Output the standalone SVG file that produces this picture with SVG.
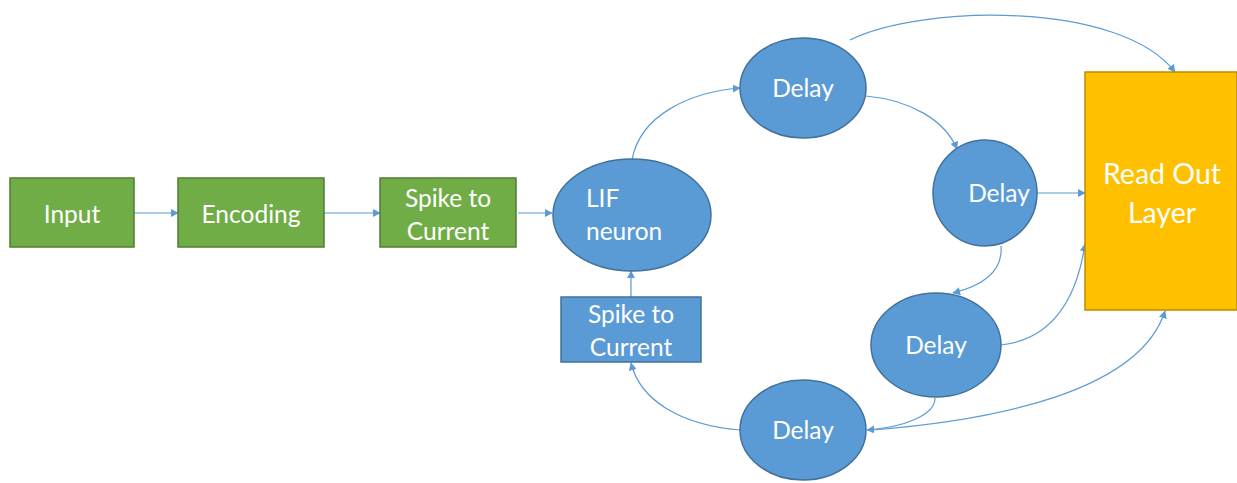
<svg xmlns="http://www.w3.org/2000/svg" width="1237" height="483" viewBox="0 0 1237 483">
<style>
.g{fill:#70AD47;stroke:#507E32;stroke-width:1.5}
.b{fill:#5B9BD5;stroke:#41719C;stroke-width:1.5}
.o{fill:#FFC000;stroke:#BC8C00;stroke-width:1.5}
.t{font-family:Lato,"Liberation Sans",sans-serif;font-size:24.5px;fill:#FFFFFF;text-anchor:middle}
.big{font-size:28.5px}
.c{fill:none;stroke:#5B9BD5;stroke-width:1.2;marker-end:url(#ah)}
</style>
<defs>
<marker id="ah" viewBox="0 0 10 10" refX="9" refY="5" markerWidth="8" markerHeight="8" markerUnits="userSpaceOnUse" orient="auto">
<path d="M0,0 L10,5 L0,10 z" fill="#5B9BD5"/>
</marker>
</defs>
<rect width="1237" height="483" fill="#FFFFFF"/>
<g id="connectors">
<path class="c" d="M134,213 L178,213"/>
<path class="c" d="M324,213 L380,213"/>
<path class="c" d="M518,213 L552,213"/>
<path class="c" d="M631,297 L631,271"/>
<path class="c" d="M632,160 C640,115 690,92 740,88"/>
<path class="c" d="M850,40 C920,5 1120,0 1175,72"/>
<path class="c" d="M866,96 C910,100 945,120 957,149"/>
<path class="c" d="M1037,193 L1085,193"/>
<path class="c" d="M1001,246 C1003,270 985,285 953,293"/>
<path class="c" d="M1001,345 C1045,340 1075,310 1085,244"/>
<path class="c" d="M935,398 C935,415 905,427 867,430"/>
<path class="c" d="M873,430 C1000,420 1140,390 1165,311"/>
<path class="c" d="M740,430 C680,425 640,400 631,363"/>
</g>
<g id="input"><rect class="g" x="10" y="178" width="124" height="69"/><text class="t" x="72" y="223">Input</text></g>
<g id="encoding"><rect class="g" x="178" y="178" width="146" height="69"/><text class="t" x="251" y="223">Encoding</text></g>
<g id="spike1"><rect class="g" x="380" y="178" width="136" height="69"/><text class="t" x="448" y="207">Spike to</text><text class="t" x="448" y="240">Current</text></g>
<g id="lif"><ellipse class="b" cx="632" cy="215" rx="79" ry="56"/><text class="t" x="586" y="207" style="text-anchor:start">LIF</text><text class="t" x="586" y="240" style="text-anchor:start">neuron</text></g>
<g id="spike2"><rect class="b" x="561" y="297" width="140" height="65"/><text class="t" x="631" y="323">Spike to</text><text class="t" x="631" y="356">Current</text></g>
<g id="delay1"><ellipse class="b" cx="803" cy="88" rx="63" ry="50"/><text class="t" x="803" y="97">Delay</text></g>
<g id="delay2"><ellipse class="b" cx="985" cy="193" rx="52" ry="53"/><text class="t" x="999" y="202">Delay</text></g>
<g id="delay3"><ellipse class="b" cx="936" cy="345" rx="65" ry="52"/><text class="t" x="936" y="354">Delay</text></g>
<g id="delay4"><ellipse class="b" cx="803" cy="430" rx="63" ry="50"/><text class="t" x="803" y="439">Delay</text></g>
<g id="readout"><rect class="o" x="1085" y="72" width="152" height="238"/><text class="t big" x="1162" y="184">Read Out</text><text class="t big" x="1162" y="223">Layer</text></g>
</svg>
